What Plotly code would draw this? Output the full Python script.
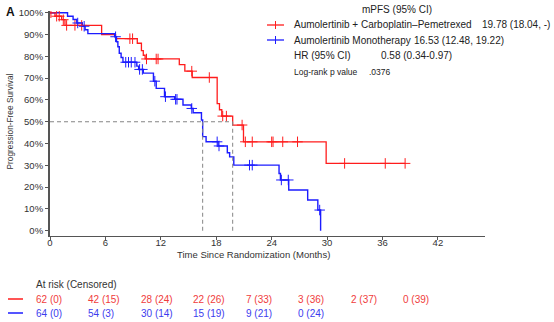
import plotly.graph_objects as go

# ---- Kaplan-Meier data (time in months, survival in %) ----
combo_times = [0, 0.54, 1.26, 1.62, 5.59, 7.1, 9.45, 9.9, 10.1, 10.3, 14.0, 14.6, 15.4,
               18.1, 18.35, 18.6, 19.78, 20.95, 29.9]
combo_surv = [100, 98.4, 96.8, 94.2, 90.0, 88.1, 86.0, 82.6, 80.5, 78.8, 76.2, 73.2, 70.3,
              58.3, 55.5, 52.6, 48.5, 40.8, 30.9]
combo_end = 38.45
combo_censor = [0.1, 0.72, 1.0, 1.44, 1.8, 2.7, 3.43, 8.65, 8.94, 10.45, 11.5, 11.7, 15.35,
                17.25, 18.7, 19.1, 20.8, 21.15, 21.9, 24.0, 24.15, 25.2, 26.8, 31.9, 36.3, 38.45]

mono_times = [0, 1.9, 2.5, 2.9, 3.5, 3.8, 4.1, 7.0, 7.2, 7.35, 7.5, 7.7, 7.9, 9.4, 9.6, 10.1,
              11.2, 11.5, 12.4, 13.5, 14.4, 15.3, 15.5, 16.4, 16.53, 16.9, 18.2, 19.2, 19.45,
              19.9, 24.8, 24.95, 25.85, 27.9, 29.0, 29.3]
mono_surv = [100, 98.4, 96.9, 95.3, 93.8, 92.2, 90.4, 89.0, 86.7, 84.4, 81.4, 79.5, 77.3, 75.5,
             74.0, 72.3, 68.6, 65.3, 61.5, 60.3, 57.7, 56.1, 54.1, 50.8, 43.2, 40.8, 38.9, 35.8,
             33.9, 30.1, 26.3, 23.3, 18.7, 14.1, 9.5, 0]
mono_censor = [3.0, 3.7, 7.1, 8.2, 8.5, 8.8, 9.2, 9.7, 10.0, 11.35, 12.5, 13.6, 13.75, 15.35,
               18.1, 18.3, 21.6, 21.9, 25.05, 25.8, 29.2]

medians = [19.78, 16.53]

# ---- At-risk table ----
risk_times = [0, 6, 12, 18, 24, 30, 36, 42]
combo_risk = ["62 (0)", "42 (15)", "28 (24)", "22 (26)", "7 (33)", "3 (36)", "2 (37)", "0 (39)"]
mono_risk = ["64 (0)", "54 (3)", "30 (14)", "15 (19)", "9 (21)", "0 (24)"]

# ---- Axis ticks ----
x_ticks = [0, 6, 12, 18, 24, 30, 36, 42]
y_ticks = [0, 10, 20, 30, 40, 50, 60, 70, 80, 90, 100]
y_ticklabels = [f"{v}%" for v in y_ticks]

RED = "#ff1c1c"
BLUE = "#1c1cff"
RED_TXT = "#f03c3c"
BLUE_TXT = "#3c3cee"
FONT = "Liberation Sans, Arial, sans-serif"

W, H = 554, 322


def px(x):
    return x / W


def py(y):
    return 1 - y / H


def surv_at(t, times, surv):
    val = surv[0]
    for ti, si in zip(times, surv):
        if ti <= t:
            val = si
    return val


fig = go.Figure()

# survival step curves
fig.add_trace(go.Scatter(x=combo_times + [combo_end], y=combo_surv + [combo_surv[-1]],
                         xaxis="x", yaxis="y", mode="lines",
                         line=dict(color=RED, width=1.3, shape="hv"),
                         showlegend=False, hoverinfo="skip"))
fig.add_trace(go.Scatter(x=mono_times, y=mono_surv, xaxis="x", yaxis="y", mode="lines",
                         line=dict(color=BLUE, width=1.4, shape="hv"),
                         showlegend=False, hoverinfo="skip"))

# censor marks
fig.add_trace(go.Scatter(x=combo_censor,
                         y=[surv_at(t, combo_times, combo_surv) for t in combo_censor],
                         xaxis="x", yaxis="y", mode="markers",
                         marker=dict(symbol="cross-thin", size=7.5, line=dict(color=RED, width=1)),
                         showlegend=False, hoverinfo="skip"))
fig.add_trace(go.Scatter(x=mono_censor,
                         y=[surv_at(t, mono_times, mono_surv) for t in mono_censor],
                         xaxis="x", yaxis="y", mode="markers",
                         marker=dict(symbol="cross-thin", size=7.5, line=dict(color=BLUE, width=1)),
                         showlegend=False, hoverinfo="skip"))

# empty trace that carries the at-risk table subplot
fig.add_trace(go.Scatter(x=[], y=[], xaxis="x2", yaxis="y2", showlegend=False))

# median reference lines
dash = dict(color="#858585", width=1, dash="4px,3px")
fig.add_shape(type="line", xref="x", yref="y", x0=0, x1=max(medians), y0=50, y1=50, line=dash)
for m in medians:
    fig.add_shape(type="line", xref="x", yref="y", x0=m, x1=m, y0=50, y1=0, line=dash)

# legend block
legend_rows = [(25, RED, "Aumolertinib + Carboplatin–Pemetrexed", "19.78 (18.04, -)", 480),
               (40, BLUE, "Aumolertinib Monotherapy", "16.53 (12.48, 19.22)", 412)]
for yy, col, name, val, vx in legend_rows:
    fig.add_shape(type="line", xref="paper", yref="paper", x0=px(267), x1=px(284),
                  y0=py(yy), y1=py(yy), line=dict(color=col, width=1.3))
    fig.add_shape(type="line", xref="paper", yref="paper", x0=px(275.5), x1=px(275.5),
                  y0=py(yy - 4), y1=py(yy + 4), line=dict(color=col, width=1))
    fig.add_annotation(text=name, xref="paper", yref="paper", x=px(292), y=py(yy),
                       xanchor="left", yanchor="middle", showarrow=False,
                       font=dict(family=FONT, size=10, color="#222"))
    fig.add_annotation(text=val, xref="paper", yref="paper", x=px(vx), y=py(yy),
                       xanchor="left", yanchor="middle", showarrow=False,
                       font=dict(family=FONT, size=10, color="#222"))

texts = [
    ("mPFS (95% CI)", 360, 10, 10),
    ("HR (95% CI)", 292, 55.5, 10),
    ("0.58 (0.34-0.97)", 379, 55.5, 10),
    ("Log-rank p value", 292, 72, 8.5),
    (".0376", 367, 72, 8.5),
]
for t, x, y, sz in texts:
    fig.add_annotation(text=t, xref="paper", yref="paper", x=px(x), y=py(y),
                       xanchor="left", yanchor="middle", showarrow=False,
                       font=dict(family=FONT, size=sz, color="#222"))

# panel letter
fig.add_annotation(text="<b>A</b>", xref="paper", yref="paper", x=px(4), y=py(12),
                   xanchor="left", yanchor="middle", showarrow=False,
                   font=dict(family=FONT, size=12, color="#111"))

# axis titles
fig.add_annotation(text="Progression-Free Survival", xref="paper", yref="paper",
                   x=px(10), y=py(121.5), textangle=-90, xanchor="center", yanchor="middle",
                   showarrow=False, font=dict(family=FONT, size=8.3, color="#333"))
fig.add_annotation(text="Time Since Randomization (Months)", xref="paper", yref="paper",
                   x=px(253), y=py(254), xanchor="center", yanchor="middle",
                   showarrow=False, font=dict(family=FONT, size=9.5, color="#333"))

# at-risk table
fig.add_annotation(text="At risk (Censored)", xref="paper", yref="paper", x=px(34), y=py(284),
                   xanchor="left", yanchor="middle", showarrow=False,
                   font=dict(family=FONT, size=10, color="#333"))
for yy, col in [(299, RED), (313, BLUE)]:
    fig.add_shape(type="line", xref="paper", yref="paper", x0=px(8), x1=px(23),
                  y0=py(yy), y1=py(yy), line=dict(color=col, width=1.5))
for t, s in zip(risk_times, combo_risk):
    fig.add_annotation(text=s, xref="x2", yref="paper", x=t, y=py(299),
                       xanchor="left", yanchor="middle", showarrow=False,
                       font=dict(family=FONT, size=10, color=RED_TXT))
for t, s in zip(risk_times, mono_risk):
    fig.add_annotation(text=s, xref="x2", yref="paper", x=t, y=py(313),
                       xanchor="left", yanchor="middle", showarrow=False,
                       font=dict(family=FONT, size=10, color=BLUE_TXT))

fig.update_layout(
    width=W, height=H,
    margin=dict(l=0, r=0, t=0, b=0),
    paper_bgcolor="white", plot_bgcolor="rgba(0,0,0,0)",
    template="none",
    font=dict(family=FONT, color="#333"),
    xaxis=dict(domain=[px(50), px(485)], range=[0, 47.1], tickvals=x_ticks, anchor="y",
               showgrid=False, zeroline=False, showline=True, linecolor="#555", linewidth=1,
               ticks="outside", ticklen=3, tickcolor="#555", tickwidth=1,
               ticklabelstandoff=-5,
               tickfont=dict(family=FONT, size=9.5, color="#333"), automargin=False),
    yaxis=dict(domain=[py(236), py(11)], range=[-2.4, 100.8], tickvals=y_ticks, anchor="x",
               ticktext=y_ticklabels, showgrid=False, zeroline=False, showline=True,
               linecolor="#555", linewidth=2, ticks="outside", ticklen=3, tickcolor="#555",
               tickfont=dict(family=FONT, size=9.5, color="#333"), automargin=False),
    xaxis2=dict(domain=[0, 1], range=[-34 / 8.738, (W - 34) / 8.738], visible=False,
                anchor="y2", showgrid=False, zeroline=False),
    yaxis2=dict(domain=[0, py(272)], range=[0, 1], visible=False, anchor="x2",
                showgrid=False, zeroline=False),
    showlegend=False,
)

fig.write_html("out.html")
